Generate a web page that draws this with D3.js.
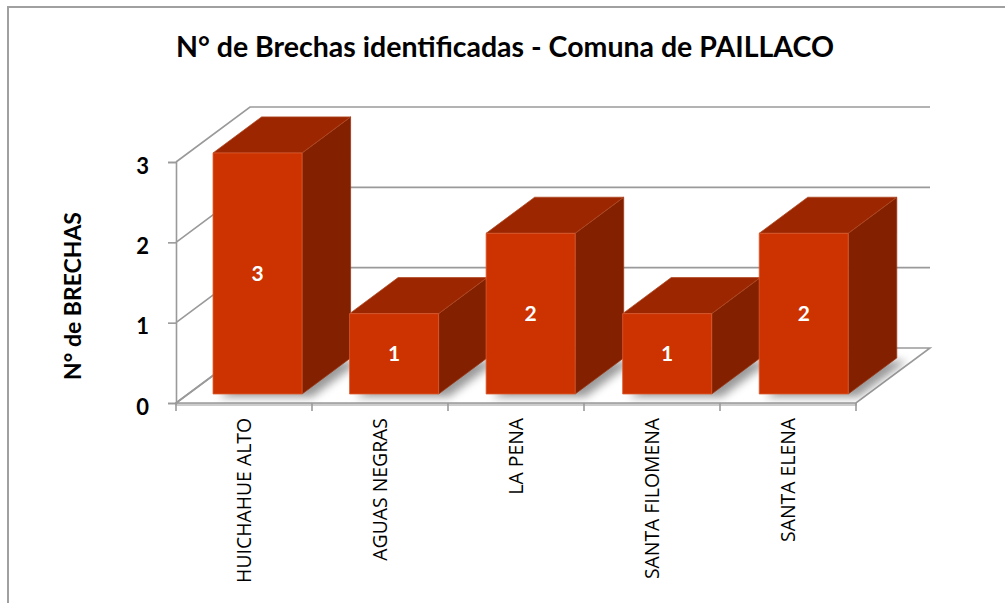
<!DOCTYPE html>
<html>
<head>
<meta charset="utf-8">
<script src="https://cdn.jsdelivr.net/npm/d3@7"></script>
<style>
  html, body { margin: 0; padding: 0; background: #fff; }
  svg { display: block; }
</style>
</head>
<body>
<svg id="chart" width="1005" height="603"></svg>
<script>
// Data
const categories = ["HUICHAHUE ALTO", "AGUAS NEGRAS", "LA PENA", "SANTA FILOMENA", "SANTA ELENA"];
const brechas = [3, 1, 2, 1, 2];
const yTicks = [0, 1, 2, 3];
const chartTitle = "N° de Brechas identificadas - Comuna de PAILLACO";
const yTitle = "N° de BRECHAS";

// Layout of the 3D box: front plane, and the depth offset of the back wall
const W = 1005, H = 603;
const front = { left: 176, right: 856, base: 403, top: 162 };
const DX = 74, DY = -55;          // offset from front plane to back wall
const T0 = 0.164, T1 = 0.82;      // depth span occupied by each bar

const colors = { front: "#cc3300", top: "#9b2600", side: "#832000", grid: "#9a9a9a" };

const svg = d3.select("#chart");

// Scales
const y = d3.scaleLinear().domain([0, 3]).range([front.base, front.top]);
const xCat = d3.scaleBand().domain(categories).range([front.left, front.right]).padding(0);
const xBar = d3.scaleBand().domain(categories).range([front.left + 1, front.right + 4])
  .paddingInner(0.348).paddingOuter(0.175);

// project a point (screen x on front plane, value, depth 0..1)
const P = (x, v, t) => [x + DX * t, y(v) + DY * t];
const poly = pts => "M" + pts.map(p => p.join(",")).join("L") + "Z";

// Outer frame
svg.append("rect")
  .attr("x", 8).attr("y", 7).attr("width", W).attr("height", H)
  .attr("fill", "#fff").attr("stroke", "#a0a0a0").attr("stroke-width", 2);

// Title
const titleText = svg.append("text")
  .attr("x", 505).attr("y", 57)
  .attr("text-anchor", "middle")
  .attr("font-family", "Lato, 'Open Sans', sans-serif")
  .attr("font-weight", "bold")
  .attr("font-size", 24)
  .attr("fill", "#000")
  .text(chartTitle);
{
  const w = titleText.node().getComputedTextLength();
  titleText.attr("font-size", 24 * 658 / w);
}

// Walls: gridlines on the left wall and back wall
const grid = svg.append("g").attr("fill", "none").attr("stroke", colors.grid).attr("stroke-width", 1.6);
yTicks.filter(v => v > 0).forEach(v => {
  const a = P(front.left, v, 0), b = P(front.left, v, 1), c = P(front.right, v, 1);
  grid.append("path").attr("d", `M${a}L${b}L${c}`);
});

// Floor (thin slab)
const floorTop = [P(front.left, 0, 0), P(front.right, 0, 0), P(front.right, 0, 1), P(front.left, 0, 1)];
svg.append("path")
  .attr("d", `M${front.left},${front.base}L${front.right},${front.base}L${front.right},${front.base + 2}L${front.left},${front.base + 2}Z`)
  .attr("fill", "#fff").attr("stroke", colors.grid).attr("stroke-width", 1.2);
svg.append("path")
  .attr("d", poly(floorTop))
  .attr("fill", "#fff").attr("stroke", colors.grid).attr("stroke-width", 1.6);

// Soft shadows cast by the bars onto the floor
const defs = svg.append("defs");
defs.append("filter").attr("id", "shadowBlur")
  .attr("x", "-30%").attr("y", "-30%").attr("width", "160%").attr("height", "160%")
  .append("feGaussianBlur").attr("stdDeviation", 4);
defs.append("clipPath").attr("id", "floorClip")
  .append("path").attr("d", poly(floorTop));

svg.append("g").attr("clip-path", "url(#floorClip)")
  .selectAll("path").data(categories).join("path")
  .attr("d", c => {
    const x0 = xBar(c) + 6, x1 = xBar(c) + xBar.bandwidth() + 10;
    const pts = [P(x0, 0, T0), P(x1, 0, T0), P(x1, 0, T1), P(x0, 0, T1)]
      .map(([px, py]) => [px, py + 3]);
    return poly(pts);
  })
  .attr("fill", "#6e6e6e").attr("opacity", 0.7)
  .attr("filter", "url(#shadowBlur)");

// Y axis (front-left edge of the left wall)
const yAxis = d3.axisLeft(y).tickValues(yTicks).tickFormat(d3.format("d"))
  .tickSize(8).tickPadding(19);
const yG = svg.append("g").attr("transform", `translate(${front.left},0)`).call(yAxis);
yG.select(".domain").attr("stroke", colors.grid).attr("stroke-width", 1.6);
yG.selectAll(".tick line").attr("stroke", colors.grid).attr("stroke-width", 1.6);
yG.selectAll(".tick text")
  .attr("font-family", "Lato, 'Open Sans', sans-serif")
  .attr("font-weight", "bold").attr("font-size", 22).attr("fill", "#000")
  .attr("dy", "0.5em");
// left-wall floor line
svg.append("path").attr("d", `M${P(front.left, 0, 0)}L${P(front.left, 0, 1)}`)
  .attr("stroke", colors.grid).attr("stroke-width", 1.6);

// Y axis title
const yt = svg.append("text")
  .attr("transform", "translate(73,296) rotate(-90)")
  .attr("text-anchor", "middle").attr("dy", "0.35em")
  .attr("font-family", "Lato, 'Open Sans', sans-serif")
  .attr("font-weight", "bold").attr("font-size", 21).attr("fill", "#000")
  .text(yTitle);
{
  const w = yt.node().getComputedTextLength();
  yt.attr("font-size", 21 * 168 / w);
}

// Category tick marks (between categories) on the front floor edge
const tickXs = categories.map(c => xCat(c)).concat([front.right]);
svg.append("g").selectAll("line").data(tickXs).join("line")
  .attr("x1", d => d).attr("x2", d => d)
  .attr("y1", front.base).attr("y2", front.base + 8)
  .attr("stroke", colors.grid).attr("stroke-width", 1.6);

// Category labels, rotated
const catLabels = svg.append("g").selectAll("text").data(categories).join("text")
  .attr("transform", c => `translate(${xCat(c) + xCat.bandwidth() / 2},418) rotate(-90)`)
  .attr("text-anchor", "end").attr("dy", "0.35em")
  .attr("font-family", "'Open Sans', Lato, sans-serif")
  .attr("font-size", 16).attr("fill", "#000")
  .text(c => c);
{
  const w = catLabels.filter(c => c === "HUICHAHUE ALTO").node().getComputedTextLength();
  catLabels.attr("font-size", 16 * 165 / w);
}

// Bars (drawn left to right so each front face covers the previous side face)
const bars = svg.append("g").selectAll("g").data(categories).join("g");
bars.each(function (c, i) {
  const g = d3.select(this);
  const v = brechas[i];
  const x0 = xBar(c), x1 = xBar(c) + xBar.bandwidth();
  g.append("path").attr("class", "side")
    .attr("d", poly([P(x1, 0, T0), P(x1, 0, T1), P(x1, v, T1), P(x1, v, T0)]))
    .attr("fill", colors.side).attr("stroke", "#9c3a1a").attr("stroke-width", 0.8);
  g.append("path").attr("class", "top")
    .attr("d", poly([P(x0, v, T0), P(x1, v, T0), P(x1, v, T1), P(x0, v, T1)]))
    .attr("fill", colors.top).attr("stroke", "#b04a25").attr("stroke-width", 0.8);
  g.append("path").attr("class", "front")
    .attr("d", poly([P(x0, 0, T0), P(x1, 0, T0), P(x1, v, T0), P(x0, v, T0)]))
    .attr("fill", colors.front).attr("stroke", "#dc5a30").attr("stroke-width", 0.8);
  const [cx, cyTop] = P((x0 + x1) / 2, v, T0);
  const cyBot = P(x0, 0, T0)[1];
  g.append("text")
    .attr("x", cx).attr("y", (cyTop + cyBot) / 2)
    .attr("dy", "0.36em").attr("text-anchor", "middle")
    .attr("font-family", "Lato, 'Open Sans', sans-serif")
    .attr("font-weight", "bold").attr("font-size", 21).attr("fill", "#fff")
    .text(v);
});
</script>
</body>
</html>
